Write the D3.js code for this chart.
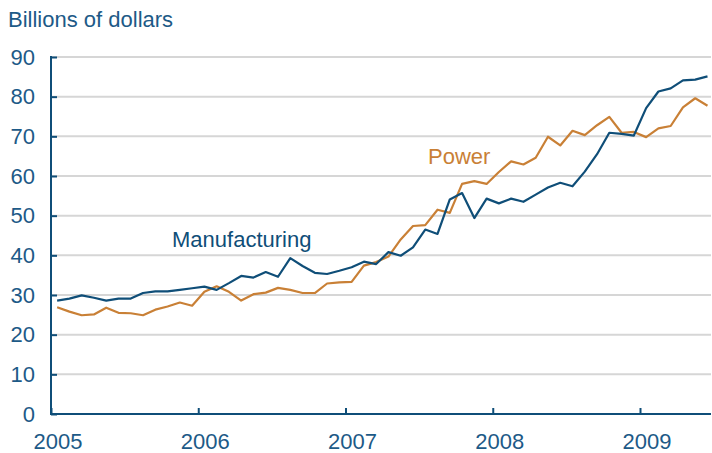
<!DOCTYPE html>
<html>
<head>
<meta charset="utf-8">
<script src="https://cdn.jsdelivr.net/npm/d3@7"></script>
<style>
  html, body { margin: 0; padding: 0; background: #fff; }
  svg { display: block; font-family: "Liberation Sans", Arial, sans-serif; }
</style>
</head>
<body>
<svg id="chart" width="712" height="453"></svg>
<script>
// Monthly values, January 2005 through June 2009 (billions of dollars)
const startYear = 2005;
const manufacturing = [
  28.6, 29.1, 29.9, 29.3, 28.6, 29.1, 29.1, 30.5, 30.9, 30.9, 31.3, 31.7,
  32.1, 31.3, 33.0, 34.8, 34.4, 35.8, 34.6, 39.3, 37.3, 35.6, 35.3, 36.1,
  37.0, 38.4, 37.8, 40.8, 39.9, 42.0, 46.5, 45.4, 54.1, 55.7, 49.4, 54.3,
  53.1, 54.3, 53.5, 55.3, 57.1, 58.3, 57.4, 61.1, 65.5, 70.9, 70.6, 70.2,
  77.1, 81.3, 82.1, 84.1, 84.3, 85.1
];
const power = [
  26.9, 25.8, 24.9, 25.1, 26.8, 25.5, 25.4, 24.9, 26.3, 27.1, 28.1, 27.3,
  30.8, 32.2, 30.8, 28.6, 30.2, 30.6, 31.8, 31.3, 30.5, 30.5, 32.9, 33.2,
  33.3, 37.4, 38.3, 39.7, 44.0, 47.4, 47.6, 51.5, 50.7, 58.0, 58.7, 58.0,
  61.0, 63.7, 62.9, 64.6, 69.9, 67.7, 71.4, 70.3, 72.8, 74.9, 70.9, 71.1,
  69.8, 72.0, 72.6, 77.3, 79.6, 77.7
];
const yTicks = [0, 10, 20, 30, 40, 50, 60, 70, 80, 90];
const xTicks = [2005, 2006, 2007, 2008, 2009];

const textBlue = "#1d5a87";
const lineBlue = "#0f4e78";
const orange = "#c98036";
const fontSize = 22;

const svg = d3.select("#chart");

// x: fractional years; monthly points sit mid-month
const x = d3.scaleLinear()
  .domain([2005, 2009])
  .range([51, 640]);
const y = d3.scaleLinear()
  .domain([0, 90])
  .range([414, 57]);

const xRight = 711;

// gridlines
svg.append("g")
  .selectAll("line")
  .data(yTicks.filter(d => d > 0))
  .join("line")
  .attr("x1", x.range()[0])
  .attr("x2", xRight)
  .attr("y1", d => y(d))
  .attr("y2", d => y(d))
  .attr("stroke", "#d6d6d6")
  .attr("stroke-width", 2);

// y axis
const yAxis = d3.axisRight(y).tickValues(yTicks).tickSize(6).tickFormat("");
const gy = svg.append("g").attr("transform", `translate(${x.range()[0]},0)`).call(yAxis);
gy.select(".domain").remove();
gy.selectAll(".tick line").attr("stroke", lineBlue).attr("stroke-width", 2);
svg.append("line")
  .attr("x1", x.range()[0]).attr("x2", x.range()[0])
  .attr("y1", y(90) - 1).attr("y2", y(0) + 1)
  .attr("stroke", lineBlue).attr("stroke-width", 2);

svg.append("g")
  .selectAll("text")
  .data(yTicks)
  .join("text")
  .attr("x", 35)
  .attr("y", d => y(d))
  .attr("dy", "0.35em")
  .attr("text-anchor", "end")
  .attr("fill", textBlue)
  .attr("font-size", fontSize)
  .text(d => d);

// x axis
const xAxis = d3.axisTop(x).tickValues(xTicks).tickSize(6).tickFormat("");
const gx = svg.append("g").attr("transform", `translate(0,${y(0)})`).call(xAxis);
gx.select(".domain").remove();
gx.selectAll(".tick line").attr("stroke", lineBlue).attr("stroke-width", 2);
svg.append("line")
  .attr("x1", x.range()[0] - 1).attr("x2", xRight)
  .attr("y1", y(0)).attr("y2", y(0))
  .attr("stroke", lineBlue).attr("stroke-width", 2);

svg.append("g")
  .selectAll("text")
  .data(xTicks)
  .join("text")
  .attr("x", d => x(d) + 7)
  .attr("y", 449)
  .attr("text-anchor", "middle")
  .attr("fill", textBlue)
  .attr("font-size", fontSize)
  .text(d => d);

// unit label
svg.append("text")
  .attr("x", 8).attr("y", 27)
  .attr("fill", textBlue)
  .attr("font-size", fontSize)
  .text("Billions of dollars");

// series lines
const monthX = i => x(startYear + (i + 0.5) / 12);
const line = d3.line().x((d, i) => monthX(i)).y(d => y(d));

svg.append("path")
  .datum(power)
  .attr("fill", "none")
  .attr("stroke", orange)
  .attr("stroke-width", 2.2)
  .attr("stroke-linejoin", "round")
  .attr("d", line);

svg.append("path")
  .datum(manufacturing)
  .attr("fill", "none")
  .attr("stroke", lineBlue)
  .attr("stroke-width", 2.2)
  .attr("stroke-linejoin", "round")
  .attr("d", line);

// series labels
svg.append("text")
  .attr("x", 172).attr("y", 247)
  .attr("fill", lineBlue)
  .attr("font-size", fontSize)
  .text("Manufacturing");

svg.append("text")
  .attr("x", 428).attr("y", 164)
  .attr("fill", orange)
  .attr("font-size", fontSize)
  .text("Power");
</script>
</body>
</html>
